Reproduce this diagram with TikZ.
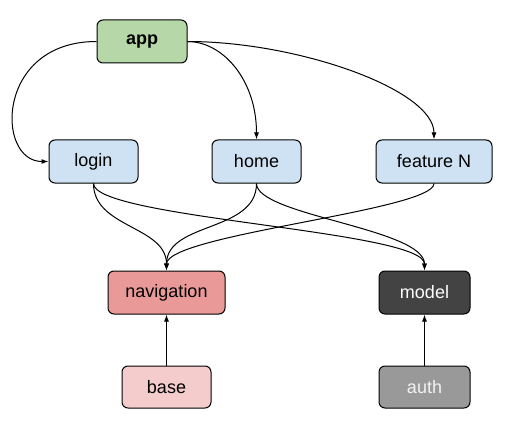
\documentclass[tikz,border=0pt]{standalone}
\usepackage{fontspec}
\setmainfont{Liberation Sans}
\usetikzlibrary{arrows.meta}
\definecolor{appgreen}{HTML}{B6D7A8}
\definecolor{featblue}{HTML}{CFE2F3}
\definecolor{navred}{HTML}{EA9999}
\definecolor{basepink}{HTML}{F4CCCC}
\definecolor{modelgray}{HTML}{434343}
\definecolor{authgray}{HTML}{999999}
\begin{document}
\begin{tikzpicture}[x=1pt, y=-1pt, line width=1pt,
				    >={Latex[length=7pt,width=5pt]},
				    module/.style={draw, rounded corners=6pt, fill=none, inner sep=0pt,
				    			  minimum height=43pt, text centered, text=black,
				    			  font=\fontsize{18}{21}\selectfont}]
	\useasboundingbox (0, 0) rectangle (510, 430);
	\node[module, fill=appgreen, minimum width=90pt, font=\fontsize{18}{21}\selectfont\bfseries] (app) at (142, 41.5) {app};
	\node[module, fill=featblue, minimum width=89pt] (login) at (93.5, 161.5) {login};
	\node[module, fill=featblue, minimum width=89pt] (home) at (256.5, 161.5) {home};
	\node[module, fill=featblue, minimum width=116pt] (featN) at (434, 161.5) {feature N};
	\node[module, fill=navred, minimum width=117pt] (nav) at (166.5, 292.5) {navigation};
	\node[module, fill=modelgray, minimum width=91pt, text=white] (model) at (424.5, 292.5) {model};
	\node[module, fill=basepink, minimum width=89pt, minimum height=42pt] (base) at (166.5, 387) {base};
	\node[module, fill=authgray, minimum width=91pt, minimum height=42pt, text=white!95!black] (auth) at (424.5, 387) {auth};
	
	\draw[->] 	(app.west)  .. controls +(-101, 0) and +(-53, 0) ..  (login.west);
	\draw[->] 	(app.east)  .. controls +(35, 0) and +(0, -60) ..  (home.north);
	\draw[->] 	(app.east)  .. controls +(110, 0) and +(0, -50) ..  (featN.north);
	\path[->] 	(login.south)  edge[out=-90, in=90]   (nav.north);
	\draw[->] 	(login.south)  .. controls +(0, 35) and +(0, -40) ..  (model.north);
	\path[->] 	(home.south)  edge[out=-90, in=90]   (nav.north);
	\draw[->] 	(home.south)  .. controls +(0, 32) and +(0, -42) ..  (model.north);
	\draw[->] 	(featN.south)  .. controls +(0, 27) and +(0, -36) ..  (nav.north);
	\path[->] 	(base)  edge   (nav);
	\path[->] 	(auth)  edge   (model);
	
\end{tikzpicture}
\end{document}
